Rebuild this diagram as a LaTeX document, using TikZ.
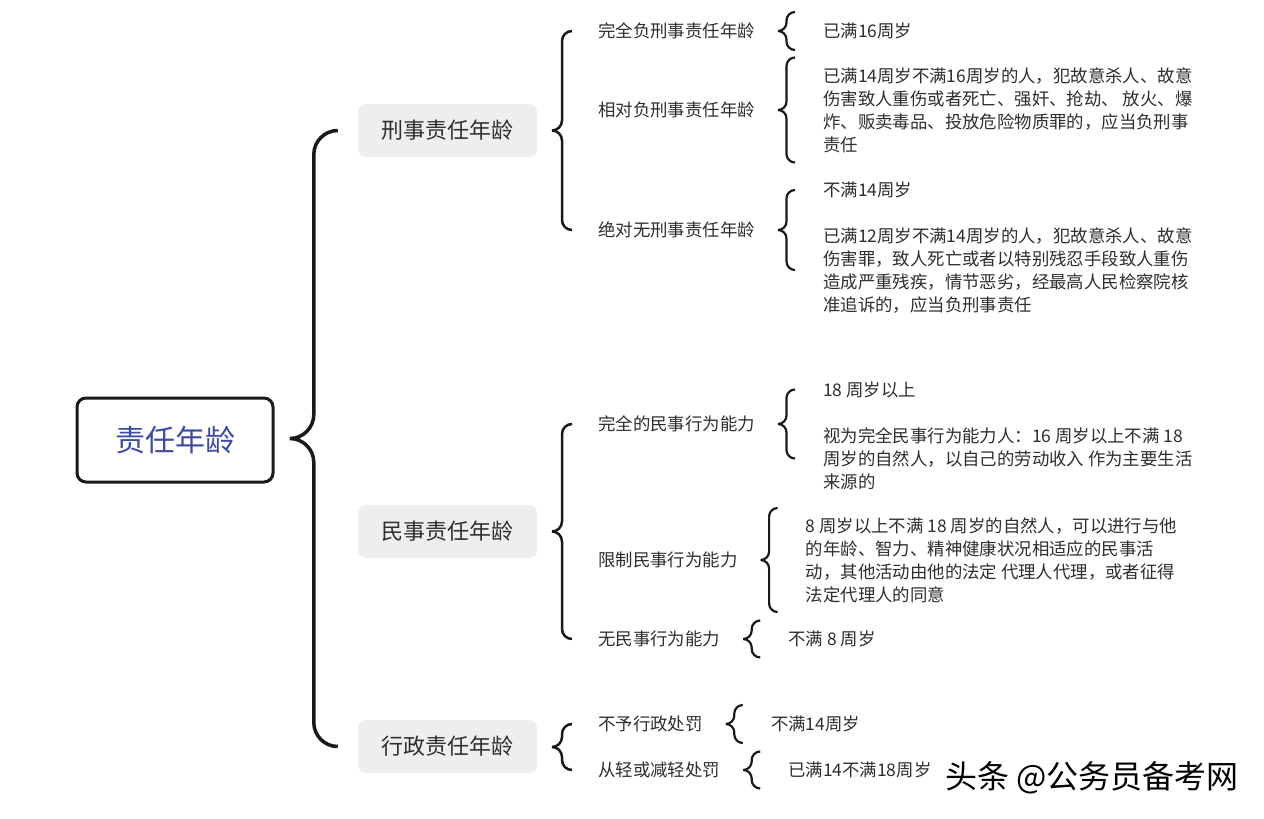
\documentclass[tikz,border=0pt]{standalone}
\usepackage{fontspec}
\setmainfont{Noto Sans CJK SC}
\usepackage{xcolor}
\definecolor{cLine}{HTML}{1A1A1A}
\definecolor{cText}{HTML}{2E2E2E}
\definecolor{cRoot}{HTML}{3D4BA0}
\definecolor{cBox}{HTML}{EEEEEE}
\usepackage{tikz}
\usetikzlibrary{positioning,calc}
\tikzset{
  node-root/.style={draw=cLine,line width=3pt,rounded corners=9pt,
    minimum width=196pt,minimum height=84pt,text=cRoot,
    font=\fontsize{30}{36}\selectfont},
  node-cat/.style={fill=cBox,rounded corners=8pt,minimum width=179pt,
    minimum height=53pt,text=cText,font=\fontsize{22}{26}\selectfont},
  node-item/.style={anchor=west,inner sep=0pt,text=cText,
    font=\fontsize{17.4}{23}\selectfont},
  node-leaf/.style={node-item,align=left},
  node-mark/.style={inner sep=0pt,text=black,font=\fontsize{32}{36}\selectfont},
  % 右开口的花括号：起点在上端，终点在下端，#1 = 括号深度的一半
  curly-brace/.style={draw=cLine,rounded corners=#1pt,to path={
    let \p1=(\tikztostart), \p2=(\tikztotarget), \n1={#1} in
    (\p1) -- ({\x1-\n1},\y1) -- ({\x1-\n1},{0.5*\y1+0.5*\y2})
      -- ({\x1-2*\n1},{0.5*\y1+0.5*\y2})
    ({\x1-2*\n1},{0.5*\y1+0.5*\y2}) -- ({\x1-\n1},{0.5*\y1+0.5*\y2})
      -- ({\x2-\n1},\y2) -- (\p2)}},
  brace-root/.style={curly-brace=24,line width=3.5pt},
  brace-cat/.style={curly-brace=10,line width=2.5pt},
  brace-leaf/.style={curly-brace=8.5,line width=2.2pt},
}

\begin{document}
\begin{tikzpicture}[x=1pt,y=-1pt]
  \path[fill=white,use as bounding box] (0,0) rectangle (1264,819);

  \node[node-root] (root) at (175,440) {责任年龄};
  \node[node-cat] (crim) at (447.5,130.5) {刑事责任年龄};
  \node[node-cat] (civ) at (447.5,531.5) {民事责任年龄};
  \node[node-cat] (adm) at (447.5,746.5) {行政责任年龄};

  % 刑事
  \node[node-item] (crim-full) at (598,31) {完全负刑事责任年龄};
  \node[node-item] (crim-rel) at (598,110) {相对负刑事责任年龄};
  \node[node-item] (crim-none) at (598,230) {绝对无刑事责任年龄};
  \node[node-leaf,right=68pt of crim-full] (crim-full-txt) {已满16周岁};
  \node[node-leaf,right=68pt of crim-rel] (crim-rel-txt) {已满14周岁不满16周岁的人，犯故意杀人、故意\\伤害致人重伤或者死亡、强奸、抢劫、 放火、爆\\炸、贩卖毒品、投放危险物质罪的，应当负刑事\\责任};
  \node[node-leaf,right=68pt of crim-none,yshift=-17.5pt] (crim-none-txt) {不满14周岁\\[23pt]已满12周岁不满14周岁的人，犯故意杀人、故意\\伤害罪，致人死亡或者以特别残忍手段致人重伤\\造成严重残疾，情节恶劣，经最高人民检察院核\\准追诉的，应当负刑事责任};

  % 民事
  \node[node-item] (civ-full) at (598,424) {完全的民事行为能力};
  \node[node-item] (civ-lim) at (598,560) {限制民事行为能力};
  \node[node-item] (civ-none) at (598,639) {无民事行为能力};
  \node[node-leaf,right=68pt of civ-full,yshift=-12pt] (civ-full-txt) {18 周岁以上\\[23pt]视为完全民事行为能力人：16 周岁以上不满 18\\周岁的自然人，以自己的劳动收入 作为主要生活\\来源的};
  \node[node-leaf,right=68pt of civ-lim] (civ-lim-txt) {8 周岁以上不满 18 周岁的自然人，可以进行与他\\的年龄、智力、精神健康状况相适应的民事活\\动，其他活动由他的法定 代理人代理，或者征得\\法定代理人的同意};
  \node[node-leaf,right=68pt of civ-none] (civ-none-txt) {不满 8 周岁};

  % 行政
  \node[node-item] (adm-none) at (598,724) {不予行政处罚};
  \node[node-item] (adm-light) at (598,770) {从轻或减轻处罚};
  \node[node-leaf,right=68pt of adm-none] (adm-none-txt) {不满14周岁};
  \node[node-leaf,right=68pt of adm-light] (adm-light-txt) {已满14不满18周岁};

  \node[node-mark] (mark) at (1092,778) {头条 @公务员备考网};

  \draw[brace-root] ($(crim.west)+(-20,0)$) to ($(adm.west)+(-20,0)$);
  \draw[brace-cat] ($(crim-full.west)+(-26,0)$) to ($(crim-none.west)+(-26,0)$);
  \draw[brace-cat] ($(civ-full.west)+(-26,0)$) to ($(civ-none.west)+(-26,0)$);
  \draw[brace-cat] ($(adm-none.west)+(-26,0)$) to ($(adm-light.west)+(-26,0)$);
  \draw[brace-leaf] ($(crim-full.east)+(40,-19)$) to ($(crim-full.east)+(40,19)$);
  \draw[brace-leaf] ($(crim-rel.east)+(40,-52.5)$) to ($(crim-rel.east)+(40,52.5)$);
  \draw[brace-leaf] ($(crim-none.east)+(40,-40)$) to ($(crim-none.east)+(40,40)$);
  \draw[brace-leaf] ($(civ-full.east)+(40,-34.5)$) to ($(civ-full.east)+(40,34.5)$);
  \draw[brace-leaf] ($(civ-lim.east)+(40,-52)$) to ($(civ-lim.east)+(40,52)$);
  \draw[brace-leaf] ($(civ-none.east)+(40,-18.5)$) to ($(civ-none.east)+(40,18.5)$);
  \draw[brace-leaf] ($(adm-none.east)+(40,-19)$) to ($(adm-none.east)+(40,19)$);
  \draw[brace-leaf] ($(adm-light.east)+(40,-18.5)$) to ($(adm-light.east)+(40,18.5)$);
\end{tikzpicture}
\end{document}
